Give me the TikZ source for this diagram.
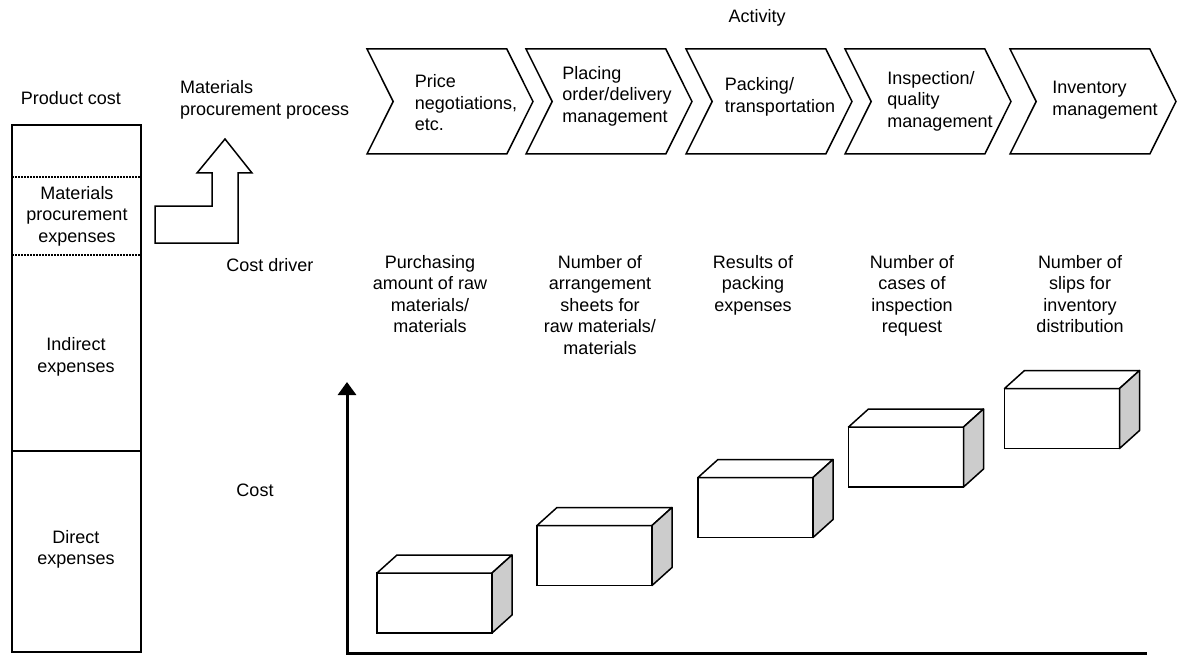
\documentclass[tikz,border=0pt]{standalone}
\usepackage{fontspec}
\setmainfont{Liberation Sans}
\usetikzlibrary{shapes.symbols,arrows.meta}

\begin{document}
\begin{tikzpicture}[
        x=1pt, y=-1pt,
        >={Triangle[width=18pt,length=13pt]},
        every node/.style={font=\fontsize{18}{21.5}\selectfont, inner sep=0pt},
        stage/.style={draw, line width=1.5pt, signal, signal to=east,
            signal from=west, signal pointer angle=127,
            minimum width=166pt, minimum height=105pt},
        stagetext/.style={align=left},
        driver/.style={align=center, anchor=north},
        block/.style={draw, line width=1.5pt, fill=white, outer sep=0pt,
            minimum width=115pt, minimum height=60pt},
        face/.style={draw, line width=1.5pt, line join=round},
        sepline/.style={densely dotted, line width=2pt},
        axis/.style={line width=3pt}
    ]
    \useasboundingbox (0,0) rectangle (1177,655);

    % product cost column
    \node (prodlbl) at (71,98) {Product cost};
    \node[draw, line width=1.5pt, minimum width=129pt, minimum height=527pt]
        (prod) at (76.5,388.5) {};
    \draw[sepline] (12,177) -- (141,177);
    \draw[sepline] (12,255) -- (141,255);
    \draw[line width=1.5pt] (12,451) -- (141,451);
    \node[align=center] (matexp) at (77,216) {Materials\\procurement\\expenses};
    \node[align=center] (indexp) at (76,357) {Indirect\\expenses};
    \node[align=center] (direxp) at (76,549.5) {Direct\\expenses};

    % bent arrow
    \draw[line width=1.5pt] (155,243) -- (238,243) -- (238,173) -- (252,173)
        -- (225,139) -- (197,173) -- (212,173) -- (212,206) -- (155,206) -- cycle;

    % activities
    \node[align=left, anchor=west] (proc) at (180,100)
        {Materials\\procurement process};
    \node (activity) at (757,18) {Activity};
    \node[stage] (act1) at (450,101.5) {};
    \node[stage] (act2) at (609,101.5) {};
    \node[stage] (act3) at (769,101.5) {};
    \node[stage] (act4) at (928,101.5) {};
    \node[stage] (act5) at (1093,101.5) {};
    \node[stagetext] (act1t) at (466,103) {Price\\negotiations,\\etc.};
    \node[stagetext] (act2t) at (617,96) {Placing\\order/delivery\\management};
    \node[stagetext] (act3t) at (780,97) {Packing/\\transportation};
    \node[stagetext] (act4t) at (940,101) {Inspection/\\quality\\management};
    \node[stagetext] (act5t) at (1105,100) {Inventory\\management};

    % cost drivers
    \node (drvlbl) at (270,265) {Cost driver};
    \node[driver] (drv1) at (430,255) {Purchasing\\amount of raw\\materials/\\materials};
    \node[driver] (drv2) at (600,255) {Number of\\arrangement\\sheets for\\raw materials/\\materials};
    \node[driver] (drv3) at (753,255) {Results of\\packing\\expenses};
    \node[driver] (drv4) at (912,255) {Number of\\cases of\\inspection\\request};
    \node[driver] (drv5) at (1080,255) {Number of\\slips for\\inventory\\distribution};

    % cost graph
    \node (costlbl) at (255,490) {Cost};
    \coordinate (orig) at (347,653);
    \coordinate (ytop) at (347,382);
    \coordinate (xend) at (1147,653);
    \draw[axis, <-] (ytop) -- (orig) -- (xend);
    \node[block] (blk1) at (434.5,603) {};
    \node[block] (blk2) at (594.5,555.5) {};
    \node[block] (blk3) at (755.5,507.5) {};
    \node[block] (blk4) at (906,457) {};
    \node[block] (blk5) at (1062,418.5) {};
    \foreach \b in {blk1,blk2,blk3,blk4,blk5} {
        \draw[face, fill=white] (\b.north west) -- ++(20,-18)
            -- ([shift={(20,-18)}]\b.north east) -- (\b.north east) -- cycle;
        \draw[face, fill=gray!40] (\b.north east) -- ++(20,-18)
            -- ([shift={(20,-18)}]\b.south east) -- (\b.south east) -- cycle;
    }
\end{tikzpicture}
\end{document}
